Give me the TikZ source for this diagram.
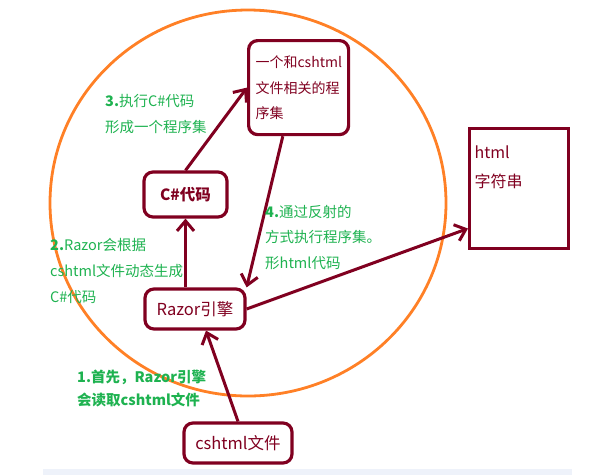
\documentclass[tikz,border=0pt]{standalone}
\usepackage{fontspec}
\setmainfont{Noto Sans CJK SC}
\usetikzlibrary{arrows.meta, positioning}
\definecolor{razorred}{RGB}{128, 0, 32}
\definecolor{stepgreen}{RGB}{30, 178, 80}
\definecolor{ringorange}{RGB}{255, 128, 38}
\definecolor{bandblue}{RGB}{238, 242, 250}
\tikzset{
  box/.style={draw=razorred, line width=3.2pt, rounded corners=9pt, text=razorred, inner sep=0pt},
  flow/.style={draw=razorred, line width=3pt, -{Straight Barb[length=10pt, width=17pt]}},
  note/.style={text=stepgreen, align=left, text width=160pt, anchor=base west, inner sep=0pt},
}

\begin{document}
\begin{tikzpicture}[x=1pt, y=-1pt]
  \useasboundingbox (0,0) rectangle (594,475);
  \fill[bandblue] (43,469) rectangle (572,475);

  % Ring
  \draw[ringorange, line width=2.8pt] (248,203) ellipse (198 and 193);

  % Boxes
  \node[box, anchor=north west, inner xsep=7pt, text width=86pt, align=left,
        text height=27pt, text depth=67pt, font=\fontsize{14}{25.5}\selectfont]
        (asm) at (247,39) {一个和cshtml\\文件相关的程\\序集};
  \node[box, minimum width=83pt, minimum height=45pt, font=\bfseries\fontsize{15.5}{18}\selectfont]
        (csharp) at (185.5,194.5) {C\#代码};
  \node[box, minimum width=100pt, minimum height=40pt, font=\fontsize{16.5}{19}\selectfont]
        (razor) at (195,309) {Razor引擎};
  \node[box, minimum width=108pt, minimum height=40pt, font=\fontsize{16.5}{19}\selectfont]
        (cshtml) at (238,443) {cshtml文件};
  \node[box, rounded corners=0pt, anchor=north west, inner xsep=5pt, text width=89pt, align=left,
        text height=30pt, text depth=90pt, font=\fontsize{16}{29}\selectfont]
        (html) at (468,127) {html\\字符串};

  % Arrows
  \draw[flow] (cshtml.north) -- (razor.-63);
  \draw[flow] (razor.north -| csharp.south) -- (csharp.south);
  \draw[flow] (csharp.north) -- (asm.west);
  \draw[flow] (asm.-108) -- (razor.north east);
  \draw[flow] (razor.east) -- (html.-142);

  % Step notes
  \node[note, font=\bfseries\fontsize{14.5}{23.5}\selectfont] (step1) at (77,382)
        {1.首先，Razor引擎\\会读取cshtml文件};
  \node[note, font=\fontsize{14.5}{26}\selectfont] (step2) at (50,250)
        {\textbf{2.}Razor会根据\\cshtml文件动态生成\\C\#代码};
  \node[note, font=\fontsize{14.5}{26}\selectfont] (step3) at (105,106)
        {\textbf{3.}执行C\#代码\\形成一个程序集};
  \node[note, font=\fontsize{14.5}{25.5}\selectfont] (step4) at (265,217)
        {\textbf{4.}通过反射的\\方式执行程序集。\\形html代码};
\end{tikzpicture}
\end{document}
